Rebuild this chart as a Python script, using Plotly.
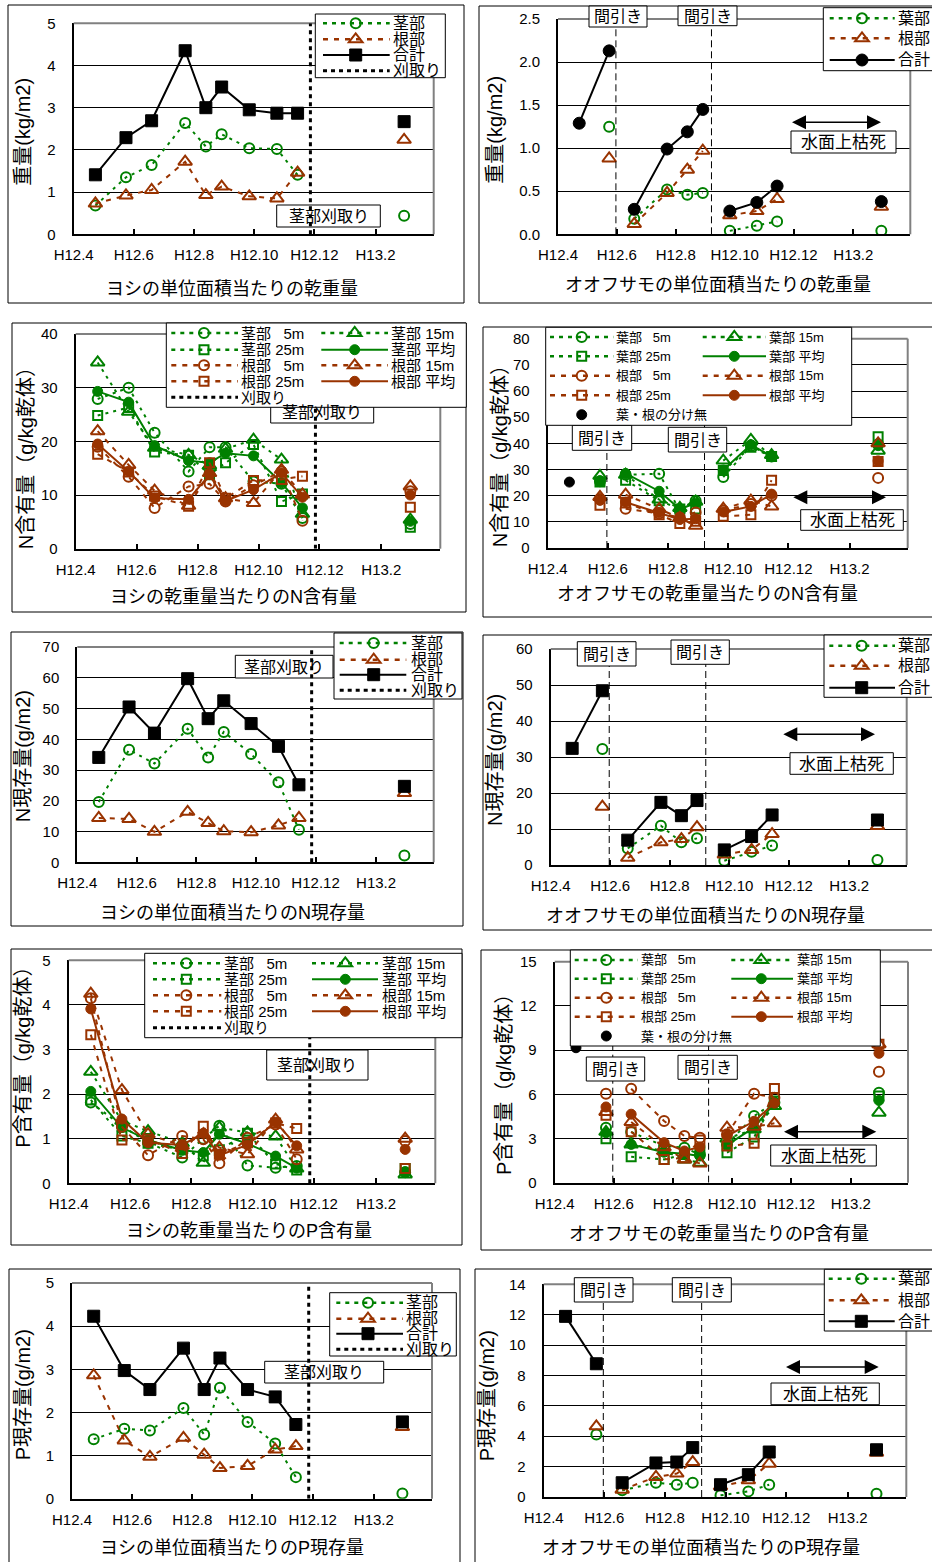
import plotly.graph_objects as go

W, H = 932, 1562
GREEN = "#008000"
BROWN = "#993300"
BLACK = "#000000"
FRAME_GRAY = "#808080"
FONT = "Liberation Sans, Arial, Noto Sans CJK JP, sans-serif"

# ---------------------------------------------------------------- data
# sampling dates (H12.4 = April 2000)
DATES = ["2000-04-23", "2000-05-24", "2000-06-19", "2000-07-23", "2000-08-13",
         "2000-08-29", "2000-09-26", "2000-10-24", "2000-11-14", "2001-03-02"]
CUT_DATE = "2000-11-27"                      # 刈取り (reed stems cut)
THINNING_DATES = ["2000-05-31", "2000-09-07"]  # 間引き
X_RANGE = ["2000-04-01", "2001-04-01"]
TICK_DATES = ["2000-04-01", "2000-06-01", "2000-08-01", "2000-10-01", "2000-12-01", "2001-02-01"]
TICK_LABELS = ["H12.4", "H12.6", "H12.8", "H12.10", "H12.12", "H13.2"]

# ヨシ dry weight (kg/m2)
YOSHI_DW_STEM = [0.68, 1.35, 1.64, 2.64, 2.08, 2.37, 2.04, 2.02, 1.41, 0.44]
YOSHI_DW_ROOT = [0.73, 0.92, 1.05, 1.72, 0.93, 1.13, 0.90, 0.85, 1.46, 2.24]
YOSHI_DW_TOTAL = [1.41, 2.29, 2.69, 4.35, 3.00, 3.49, 2.95, 2.87, 2.87, 2.67]

# オオフサモ dry weight (kg/m2)
FUSA_DW_LEAF = [None, 1.25, 0.18, 0.52, 0.46, 0.48, 0.04, 0.10, 0.15, 0.04]
FUSA_DW_ROOT = [None, 0.88, 0.12, 0.48, 0.75, 0.97, 0.22, 0.27, 0.41, 0.32]
FUSA_DW_TOTAL = [1.29, 2.13, 0.29, 0.99, 1.19, 1.45, 0.27, 0.37, 0.56, 0.38]

# ヨシ N content (g/kg dry)
YOSHI_N_STEM_5 = [27.9, 30.0, 21.6, 14.4, 18.9, 18.9, 12.5, 12.1, 5.7, 4.6]
YOSHI_N_STEM_15 = [34.7, 25.5, 18.8, 17.5, 15.5, 18.6, 20.3, 16.6, 6.5, 5.4]
YOSHI_N_STEM_25 = [24.8, 26.3, 18.0, 17.4, 13.8, 16.0, 19.4, 8.8, 10.2, 4.0]
YOSHI_N_STEM_AVG = [29.3, 27.3, 19.2, 16.4, 16.0, 17.8, 17.3, 12.3, 7.6, 5.1]
YOSHI_N_ROOT_5 = [19.0, 13.4, 7.6, 11.6, 12.1, 8.8, 11.8, 14.4, 5.2, 10.7]
YOSHI_N_ROOT_15 = [21.9, 15.6, 10.8, 8.0, 14.1, 9.4, 8.5, 14.7, 10.1, 11.6]
YOSHI_N_ROOT_25 = [17.6, 14.3, 9.8, 7.9, 16.0, 9.4, 12.7, 12.9, 13.5, 7.7]
YOSHI_N_ROOT_AVG = [19.5, 14.4, 9.4, 9.2, 13.8, 8.9, 11.0, 14.1, 9.6, 10.0]

# オオフサモ N content (g/kg dry)
FUSA_N_MIXED = [25.2, None, None, None, None, None, None, None, None, None]
FUSA_N_LEAF_5 = [None, 25.5, 28.0, 28.4, 14.3, 18.1, 27.1, 39.0, 35.0, 39.7]
FUSA_N_LEAF_15 = [None, 27.6, 28.0, 18.5, 15.3, 17.7, 33.4, 41.3, 35.5, 37.2]
FUSA_N_LEAF_25 = [None, 25.2, 25.9, 18.1, 14.9, 14.9, 29.6, 38.5, 35.0, 42.5]
FUSA_N_LEAF_AVG = [None, 25.7, 28.5, 21.7, 14.9, 17.1, 29.8, 39.5, 35.0, 39.1]
FUSA_N_ROOT_5 = [None, 18.7, 15.0, 13.2, 11.7, 13.6, 14.3, 16.8, 20.0, 26.8]
FUSA_N_ROOT_15 = [None, 19.5, 20.4, 14.9, 11.5, 8.5, 15.0, 18.1, 15.9, 40.0]
FUSA_N_ROOT_25 = [None, 16.3, 17.2, 12.7, 9.4, 10.2, 12.1, 12.7, 25.9, 33.1]
FUSA_N_ROOT_AVG = [None, 18.2, 17.5, 13.6, 10.9, 11.2, 13.8, 15.9, 20.6, 33.3]

# ヨシ N stock (g/m2)
YOSHI_NS_STEM = [19.6, 36.6, 32.1, 43.4, 34.1, 42.4, 35.2, 26.0, 10.6, 2.2]
YOSHI_NS_ROOT = [14.4, 14.1, 9.9, 16.4, 12.8, 10.1, 9.8, 12.0, 14.4, 22.5]
YOSHI_NS_TOTAL = [34.1, 50.5, 42.0, 59.7, 46.7, 52.5, 45.1, 37.7, 25.2, 24.7]

# オオフサモ N stock (g/m2)
FUSA_NS_LEAF = [None, 32.2, 4.6, 10.9, 6.3, 7.4, 1.2, 3.7, 5.4, 1.4]
FUSA_NS_ROOT = [None, 16.2, 2.0, 6.3, 7.2, 10.5, 2.9, 4.2, 8.6, 10.8]
FUSA_NS_TOTAL = [32.4, 48.4, 6.9, 17.4, 13.7, 17.9, 4.2, 7.9, 13.9, 12.5]

# ヨシ P content (g/kg dry)
YOSHI_P_STEM_5 = [1.81, 1.29, 0.91, 0.58, 1.00, 1.29, 0.40, 0.35, 0.39, 0.25]
YOSHI_P_STEM_15 = [2.50, 1.40, 1.17, 0.90, 0.46, 1.25, 1.14, 1.05, 0.33, 0.20]
YOSHI_P_STEM_25 = [1.87, 1.06, 0.90, 0.75, 0.61, 0.75, 1.12, 0.43, 0.30, 0.33]
YOSHI_P_STEM_AVG = [2.06, 1.25, 0.97, 0.74, 0.69, 1.10, 0.89, 0.61, 0.34, 0.26]
YOSHI_P_ROOT_5 = [4.15, 1.27, 0.63, 1.06, 0.99, 0.45, 1.02, 1.32, 0.54, 0.95]
YOSHI_P_ROOT_15 = [4.25, 2.09, 1.10, 0.84, 1.10, 0.80, 0.65, 1.43, 0.76, 1.00]
YOSHI_P_ROOT_25 = [3.33, 0.97, 0.99, 0.67, 1.28, 0.65, 0.91, 1.35, 1.23, 0.33]
YOSHI_P_ROOT_AVG = [3.91, 1.44, 0.91, 0.86, 1.12, 0.63, 0.86, 1.37, 0.84, 0.76]

# オオフサモ P content (g/kg dry)
FUSA_P_MIXED = [9.16, None, None, None, None, None, None, None, None, None]
FUSA_P_LEAF_5 = [None, 3.73, 3.44, 2.49, 2.38, 1.90, 2.60, 4.52, 5.45, 6.11]
FUSA_P_LEAF_15 = [None, 3.45, 2.60, 2.15, 1.58, 1.36, 3.00, 3.62, 5.20, 4.75]
FUSA_P_LEAF_25 = [None, 2.99, 1.76, 1.58, 1.92, 2.17, 2.04, 3.10, 5.54, 5.88]
FUSA_P_LEAF_AVG = [None, 3.39, 2.60, 2.07, 1.96, 1.81, 2.55, 3.75, 5.40, 5.58]
FUSA_P_ROOT_5 = [None, 6.04, 6.38, 4.19, 3.17, 3.05, 3.28, 6.04, 5.77, 7.53]
FUSA_P_ROOT_15 = [None, 4.80, 4.12, 2.40, 1.58, 1.31, 3.73, 3.80, 4.03, 9.40]
FUSA_P_ROOT_25 = [None, 4.57, 3.46, 1.58, 1.70, 2.90, 2.49, 2.67, 6.40, 9.40]
FUSA_P_ROOT_AVG = [None, 5.14, 4.65, 2.72, 2.15, 2.42, 3.17, 4.17, 5.40, 8.78]

# ヨシ P stock (g/m2)
YOSHI_PS_STEM = [1.38, 1.62, 1.58, 2.10, 1.49, 2.57, 1.78, 1.28, 0.50, 0.12]
YOSHI_PS_ROOT = [2.86, 1.35, 0.97, 1.41, 1.02, 0.71, 0.76, 1.14, 1.22, 1.66]
YOSHI_PS_TOTAL = [4.23, 2.97, 2.53, 3.49, 2.53, 3.26, 2.53, 2.36, 1.72, 1.78]

# オオフサモ P stock (g/m2)
FUSA_PS_LEAF = [None, 4.12, 0.44, 0.94, 0.81, 0.94, 0.11, 0.37, 0.81, 0.22]
FUSA_PS_ROOT = [None, 4.65, 0.48, 1.32, 1.54, 2.30, 0.70, 1.10, 2.19, 2.92]
FUSA_PS_TOTAL = [11.89, 8.77, 0.94, 2.24, 2.30, 3.25, 0.81, 1.47, 2.96, 3.11]

# which sampling dates are joined by a line
YOSHI_RUNS = [[0, 1, 2, 3, 4, 5, 6, 7, 8], [9]]
FUSA_RUNS = [[0, 1], [2, 3, 4, 5], [6, 7, 8], [9]]

# ---------------------------------------------------------------- styles
DOT = "3px,5px"
DASH = "5px,6px"
STEM = dict(color=GREEN, dash=DOT, symbol="circle-open", size=10)
ROOT = dict(color=BROWN, dash=DASH, symbol="triangle-up-open", size=12)
TOTAL_SQ = dict(color=BLACK, dash="solid", symbol="square", size=12)
TOTAL_CI = dict(color=BLACK, dash="solid", symbol="circle", size=12)
G5 = dict(color=GREEN, dash=DOT, symbol="circle-open", size=10)
G15 = dict(color=GREEN, dash=DOT, symbol="triangle-up-open", size=12)
G25 = dict(color=GREEN, dash=DOT, symbol="square-open", size=9)
GAVG = dict(color=GREEN, dash="solid", symbol="circle", size=10)
B5 = dict(color=BROWN, dash=DASH, symbol="circle-open", size=10)
B15 = dict(color=BROWN, dash=DASH, symbol="triangle-up-open", size=12)
B25 = dict(color=BROWN, dash=DASH, symbol="square-open", size=9)
BAVG = dict(color=BROWN, dash="solid", symbol="circle", size=10)
CUT = dict(color=BLACK, dash="4px,4px", symbol=None, width=3)
MIXED = dict(color=BLACK, dash=None, symbol="circle", size=10)
KEY_DASH = {DOT: "4px,5px", DASH: "5px,6px"}

# ---------------------------------------------------------------- geometry (pixels)
PANELS = {
    1: dict(outer=(8, 5, 464, 303), plot=(73.7, 23.3, 433.7, 234.3), ymax=5, dtick=1, fmt="d",
            title=("ヨシの単位面積当たりの乾重量", 232, 289), ytitle=("重量(kg/m2)", 23, 131.7)),
    2: dict(outer=(479, 6, 940, 303), plot=(558, 19, 910.3, 234.3), ymax=2.5, dtick=0.5, fmt=".1f",
            title=("オオフサモの単位面積当たりの乾重量", 718, 285), ytitle=("重量(kg/m2)", 494.7, 130)),
    3: dict(outer=(12, 323, 466, 612), plot=(75.7, 334, 440.3, 548.7), ymax=40, dtick=10, fmt="d",
            title=("ヨシの乾重量当たりのN含有量", 233.7, 597.3), ytitle=("N含有量（g/kg乾体）", 26.3, 453)),
    4: dict(outer=(483, 327, 940, 617), plot=(547.7, 338.7, 907.7, 548), ymax=80, dtick=10, fmt="d",
            title=("オオフサモの乾重量当たりのN含有量", 707, 594), ytitle=("N含有量（g/kg乾体）", 500, 451.3)),
    5: dict(outer=(11, 632, 463, 926), plot=(77.3, 647, 433.7, 862.3), ymax=70, dtick=10, fmt="d",
            title=("ヨシの単位面積当たりのN現存量", 232.7, 913), ytitle=("N現存量(g/m2)", 23, 756.3)),
    6: dict(outer=(483, 635, 940, 930), plot=(550.7, 649, 906.7, 865), ymax=60, dtick=10, fmt="d",
            title=("オオフサモの単位面積当たりのN現存量", 705, 916), ytitle=("N現存量(g/m2)", 495, 760)),
    7: dict(outer=(11, 949, 462, 1245), plot=(68.7, 960.3, 435.3, 1183.3), ymax=5, dtick=1, fmt="d",
            title=("ヨシの乾重量当たりのP含有量", 248.7, 1231), ytitle=("P含有量（g/kg乾体）", 23, 1052.7)),
    8: dict(outer=(481, 950, 940, 1250), plot=(554.7, 961.7, 908, 1182.7), ymax=15, dtick=3, fmt="d",
            title=("オオフサモの乾重量当たりのP含有量", 718.7, 1234.3), ytitle=("P含有量（g/kg乾体）", 504.7, 1079.3)),
    9: dict(outer=(9, 1269, 460, 1570), plot=(72, 1283, 432, 1498.7), ymax=5, dtick=1, fmt="d",
            title=("ヨシの単位面積当たりのP現存量", 231.7, 1548), ytitle=("P現存量(g/m2)", 23, 1395.3)),
    10: dict(outer=(475, 1269, 940, 1570), plot=(543.7, 1284.3, 906.3, 1497), ymax=14, dtick=2, fmt="d",
             title=("オオフサモの単位面積当たりのP現存量", 701, 1548), ytitle=("P現存量(g/m2)", 487, 1395.3)),
}

LEGENDS = {
    1: dict(box=(315.3, 14, 445.3, 77.7), rows=[23.3, 39.3, 55, 70.7], cols=[(323, 389.7, 355.7, 392)], size=16),
    2: dict(box=(823.3, 7.7, 945, 70.7), rows=[18.3, 38.3, 60], cols=[(829.7, 894.7, 862, 896.5)], size=16),
    3: dict(box=(166.3, 323, 466.3, 407.3), rows=[333, 349.7, 365.3, 381.3, 397.3],
            cols=[(171.3, 238, 204, 240.3), (321.3, 388, 354.7, 390.3)], size=15),
    4: dict(box=(545.7, 327.3, 851.7, 425.3), rows=[337, 356.3, 375.7, 395.3, 414.7],
            cols=[(550, 613.3, 581.7, 615), (702.7, 766, 734.3, 768.3)], size=13),
    5: dict(box=(334, 633, 462, 699), rows=[643, 659.7, 674.7, 690.3], cols=[(339.7, 406.3, 373.7, 409.7)], size=16),
    6: dict(box=(824, 635, 945, 697.3), rows=[645.7, 665.7, 687.7], cols=[(829.3, 895, 861.7, 897.3)], size=16),
    7: dict(box=(144.7, 953.3, 462, 1037.7), rows=[963.3, 979.3, 995.3, 1011.3, 1027.7],
            cols=[(153, 221.3, 186.3, 223), (312, 378, 345.3, 380.7)], size=15),
    8: dict(box=(570.3, 950, 880.3, 1046), rows=[960, 978.7, 997.7, 1016.7, 1036],
            cols=[(574.7, 638, 606.3, 640.3), (731.3, 793, 761.3, 795.7)], size=13),
    9: dict(box=(329.7, 1292.7, 456.3, 1356), rows=[1302.7, 1318.7, 1333.7, 1349.3],
            cols=[(336.3, 403, 368, 404.7)], size=16),
    10: dict(box=(824.3, 1269.3, 945, 1331), rows=[1278.7, 1300.3, 1321.3], cols=[(828.7, 894.7, 861.3, 897)], size=16),
}

CUT_LABEL_BOXES = {1: (276.7, 205, 380.3, 227), 3: (270.7, 401.3, 373.7, 423), 5: (235.3, 655.3, 333, 678),
                   7: (266.7, 1050, 368, 1080), 9: (264.7, 1361.3, 383.7, 1383)}
THIN_BOXES = {2: [(589, 6, 647, 27), (678, 6, 737, 25.7)],
              4: [(572.3, 425.3, 631.7, 450.3), (668.3, 427.3, 726.7, 452)],
              6: [(577.3, 641.7, 636, 666), (671, 640, 729.3, 664.3)],
              8: [(586.3, 1057, 644.7, 1081), (678, 1055.3, 737.3, 1079.3)],
              10: [(574.3, 1277.7, 633, 1302), (672.3, 1277.7, 731.3, 1302)]}
DEAD_MARKS = {2: dict(arrow=(792, 881, 122.3), box=(791, 131, 896, 153)),
              4: dict(arrow=(793.3, 886, 497.3), box=(800.7, 509.7, 903.3, 530.3)),
              6: dict(arrow=(783.3, 875, 734.3), box=(790, 752.7, 893.3, 774.3)),
              8: dict(arrow=(784, 876.3, 1131.7), box=(770.7, 1145, 876.3, 1166)),
              10: dict(arrow=(786, 878.7, 1367), box=(771, 1383, 879.3, 1404.7))}

# ---------------------------------------------------------------- helpers
fig = go.Figure()
frames, marks, boxes, cuts, keys, arrows = [], [], [], [], [], []
annotations = []
axes = {}


def P(x, y):
    return x / W, 1 - y / H


def ids(i):
    return ("x" if i == 1 else f"x{i}"), ("y" if i == 1 else f"y{i}")


def line_shape(bucket, x0, y0, x1, y1, color=BLACK, width=1, dash="solid"):
    a, b = P(x0, y0)
    c, d = P(x1, y1)
    bucket.append(dict(type="line", xref="paper", yref="paper", x0=a, y0=b, x1=c, y1=d,
                       line=dict(color=color, width=width, dash=dash), layer="above"))


def rect_shape(bucket, x0, y0, x1, y1, color=BLACK, width=1, fill="rgba(0,0,0,0)"):
    a, b = P(x0, y1)
    c, d = P(x1, y0)
    bucket.append(dict(type="rect", xref="paper", yref="paper", x0=a, y0=b, x1=c, y1=d,
                       line=dict(color=color, width=width), fillcolor=fill, layer="above"))


def path_shape(bucket, pts, color, filled=True, width=2):
    coords = [P(x, y) for x, y in pts]
    d = "M" + " L".join(f"{a:.6f},{b:.6f}" for a, b in coords) + " Z"
    bucket.append(dict(type="path", xref="paper", yref="paper", path=d,
                       line=dict(color=color, width=0 if filled else width),
                       fillcolor=color if filled else "rgba(0,0,0,0)", layer="above"))


def text(x, y, s, size, xanchor="center", angle=0):
    a, b = P(x, y)
    annotations.append(dict(xref="paper", yref="paper", x=a, y=b, text=s, showarrow=False,
                            xanchor=xanchor, yanchor="middle", textangle=angle, borderpad=0,
                            font=dict(family=FONT, size=size, color=BLACK)))


def glyph(bucket, style, cx, cy):
    sym, color = style["symbol"], style["color"]
    r = style["size"] / 2
    filled = not sym.endswith("open")
    if sym.startswith("circle"):
        a, b = P(cx - r, cy + r)
        c, d = P(cx + r, cy - r)
        bucket.append(dict(type="circle", xref="paper", yref="paper", x0=a, y0=b, x1=c, y1=d,
                           line=dict(color=color, width=1 if filled else 2),
                           fillcolor=color if filled else "rgba(0,0,0,0)", layer="above"))
    elif sym.startswith("square"):
        rect_shape(bucket, cx - r, cy - r, cx + r, cy + r, color, 1 if filled else 2,
                   color if filled else "rgba(0,0,0,0)")
    else:
        rt = r * 2 / 3 ** 0.5
        path_shape(bucket, [(cx - rt, cy + r / 2), (cx + rt, cy + r / 2), (cx, cy - r)], color, filled)


def add_series(i, values, runs, style, lines=True):
    xs, ys = [], []
    for run in runs:
        if xs:
            xs.append(None)
            ys.append(None)
        for k in run:
            xs.append(DATES[k])
            ys.append(values[k])
    xa, ya = ids(i)
    filled = not style["symbol"].endswith("open")
    fig.add_trace(go.Scatter(
        x=xs, y=ys, xaxis=xa, yaxis=ya, mode="lines+markers" if lines else "markers",
        line=dict(color=style["color"], width=2, dash=style["dash"] or "solid"),
        marker=dict(symbol=style["symbol"], size=style["size"], color=style["color"],
                    line=dict(color=style["color"], width=1 if filled else 2)),
        connectgaps=False, showlegend=False, hoverinfo="skip"))


def legend(i, entries):
    cfg = LEGENDS[i]
    rect_shape(keys, *cfg["box"], color=BLACK, width=1, fill="white")
    for style, label, col, row in entries:
        lx0, lx1, mx, tx = cfg["cols"][col]
        y = cfg["rows"][row]
        if style.get("dash"):
            dash = KEY_DASH.get(style["dash"], style["dash"])
            width = style.get("width", 2 if dash == "solid" else 2.5)
            line_shape(keys, lx0, y, lx1, y, style["color"], width, dash)
        if style.get("symbol"):
            glyph(keys, style, mx, y)
        text(tx, y, label, cfg["size"], xanchor="left")


def label_box(bucket, box, s, size):
    x0, y0, x1, y1 = box
    rect_shape(bucket, x0, y0, x1, y1, BLACK, 1, "white")
    text((x0 + x1) / 2, (y0 + y1) / 2 + 0.5, s, size)


def double_arrow(x0, x1, y, head=14, half=7):
    line_shape(arrows, x0 + head - 1, y, x1 - head + 1, y, BLACK, 1.5)
    path_shape(arrows, [(x0, y), (x0 + head, y - half), (x0 + head, y + half)], BLACK)
    path_shape(arrows, [(x1, y), (x1 - head, y - half), (x1 - head, y + half)], BLACK)


# ---------------------------------------------------------------- panels: frames and axes
for i, p in PANELS.items():
    L, T, R, B = p["plot"]
    xa, ya = ids(i)
    sfx = "" if i == 1 else str(i)
    axes["xaxis" + sfx] = dict(
        domain=[L / W, R / W], anchor=ya, type="date", range=X_RANGE, automargin=False,
        tickmode="array", tickvals=TICK_DATES, ticktext=TICK_LABELS,
        ticks="inside", ticklen=5, tickwidth=1.5, tickcolor=BLACK,
        showline=True, linecolor=BLACK, linewidth=2, showgrid=False, zeroline=False,
        tickfont=dict(family=FONT, size=15, color=BLACK), ticklabelstandoff=6, fixedrange=True)
    axes["yaxis" + sfx] = dict(
        domain=[1 - B / H, 1 - T / H], anchor=xa, range=[0, p["ymax"]], tick0=0, dtick=p["dtick"],
        tickformat=p["fmt"], showgrid=True, gridcolor=BLACK, gridwidth=1, automargin=False,
        showline=True, linecolor=BLACK, linewidth=2, zeroline=False, ticks="",
        tickfont=dict(family=FONT, size=15, color=BLACK), ticklabelstandoff=13, fixedrange=True)
    rect_shape(frames, *p["outer"], color=BLACK, width=1)
    line_shape(frames, L, T, R, T, FRAME_GRAY, 2)
    line_shape(frames, R, T, R, B, FRAME_GRAY, 2)
    t, tx, ty = p["title"]
    text(tx, ty, t, 18)
    t, tx, ty = p["ytitle"]
    text(tx, ty, t, 20, angle=-90)

# ---------------------------------------------------------------- data traces
# 1: ヨシ dry weight
add_series(1, YOSHI_DW_STEM, YOSHI_RUNS, STEM)
add_series(1, YOSHI_DW_ROOT, YOSHI_RUNS, ROOT)
add_series(1, YOSHI_DW_TOTAL, YOSHI_RUNS, TOTAL_SQ)
# 2: オオフサモ dry weight
add_series(2, FUSA_DW_LEAF, FUSA_RUNS, STEM)
add_series(2, FUSA_DW_ROOT, FUSA_RUNS, ROOT)
add_series(2, FUSA_DW_TOTAL, FUSA_RUNS, TOTAL_CI)
# 3: ヨシ N content
for vals, st in [(YOSHI_N_STEM_5, G5), (YOSHI_N_STEM_15, G15), (YOSHI_N_STEM_25, G25), (YOSHI_N_STEM_AVG, GAVG),
                 (YOSHI_N_ROOT_5, B5), (YOSHI_N_ROOT_15, B15), (YOSHI_N_ROOT_25, B25), (YOSHI_N_ROOT_AVG, BAVG)]:
    add_series(3, vals, YOSHI_RUNS, st)
# 4: オオフサモ N content
for vals, st in [(FUSA_N_LEAF_5, G5), (FUSA_N_LEAF_15, G15), (FUSA_N_LEAF_25, G25), (FUSA_N_LEAF_AVG, GAVG),
                 (FUSA_N_ROOT_5, B5), (FUSA_N_ROOT_15, B15), (FUSA_N_ROOT_25, B25), (FUSA_N_ROOT_AVG, BAVG)]:
    add_series(4, vals, FUSA_RUNS, st)
add_series(4, FUSA_N_MIXED, [[0]], MIXED, lines=False)
# 5: ヨシ N stock
add_series(5, YOSHI_NS_STEM, YOSHI_RUNS, STEM)
add_series(5, YOSHI_NS_ROOT, YOSHI_RUNS, ROOT)
add_series(5, YOSHI_NS_TOTAL, YOSHI_RUNS, TOTAL_SQ)
# 6: オオフサモ N stock
add_series(6, FUSA_NS_LEAF, FUSA_RUNS, STEM)
add_series(6, FUSA_NS_ROOT, FUSA_RUNS, ROOT)
add_series(6, FUSA_NS_TOTAL, FUSA_RUNS, TOTAL_SQ)
# 7: ヨシ P content
for vals, st in [(YOSHI_P_STEM_5, G5), (YOSHI_P_STEM_15, G15), (YOSHI_P_STEM_25, G25), (YOSHI_P_STEM_AVG, GAVG),
                 (YOSHI_P_ROOT_5, B5), (YOSHI_P_ROOT_15, B15), (YOSHI_P_ROOT_25, B25), (YOSHI_P_ROOT_AVG, BAVG)]:
    add_series(7, vals, YOSHI_RUNS, st)
# 8: オオフサモ P content
for vals, st in [(FUSA_P_LEAF_5, G5), (FUSA_P_LEAF_15, G15), (FUSA_P_LEAF_25, G25), (FUSA_P_LEAF_AVG, GAVG),
                 (FUSA_P_ROOT_5, B5), (FUSA_P_ROOT_15, B15), (FUSA_P_ROOT_25, B25), (FUSA_P_ROOT_AVG, BAVG)]:
    add_series(8, vals, FUSA_RUNS, st)
add_series(8, FUSA_P_MIXED, [[0]], MIXED, lines=False)
# 9: ヨシ P stock
add_series(9, YOSHI_PS_STEM, YOSHI_RUNS, STEM)
add_series(9, YOSHI_PS_ROOT, YOSHI_RUNS, ROOT)
add_series(9, YOSHI_PS_TOTAL, YOSHI_RUNS, TOTAL_SQ)
# 10: オオフサモ P stock
add_series(10, FUSA_PS_LEAF, FUSA_RUNS, STEM)
add_series(10, FUSA_PS_ROOT, FUSA_RUNS, ROOT)
add_series(10, FUSA_PS_TOTAL, FUSA_RUNS, TOTAL_SQ)

# ---------------------------------------------------------------- event markers
for i in (1, 3, 5, 7, 9):
    xa, ya = ids(i)
    label_box(boxes, CUT_LABEL_BOXES[i], "茎部刈取り", 16)
    cuts.append(dict(type="line", xref=xa, yref=ya, x0=CUT_DATE, x1=CUT_DATE, y0=0, y1=PANELS[i]["ymax"],
                     line=dict(color=BLACK, width=3, dash="4px,4px"), layer="above"))

for i in (2, 4, 6, 8, 10):
    xa, ya = ids(i)
    for d in THINNING_DATES:
        marks.append(dict(type="line", xref=xa, yref=ya, x0=d, x1=d, y0=0, y1=PANELS[i]["ymax"],
                          line=dict(color=BLACK, width=1, dash="7px,4px"), layer="above"))
    for b in THIN_BOXES[i]:
        label_box(boxes, b, "間引き", 16)
    dm = DEAD_MARKS[i]
    label_box(boxes, dm["box"], "水面上枯死", 17)
    double_arrow(*dm["arrow"])

# ---------------------------------------------------------------- legends
SP = "\u2007"
for i in (1, 5, 9):
    legend(i, [(STEM, "茎部", 0, 0), (ROOT, "根部", 0, 1), (TOTAL_SQ, "合計", 0, 2), (CUT, "刈取り", 0, 3)])
legend(2, [(STEM, "葉部", 0, 0), (ROOT, "根部", 0, 1), (TOTAL_CI, "合計", 0, 2)])
for i in (6, 10):
    legend(i, [(STEM, "葉部", 0, 0), (ROOT, "根部", 0, 1), (TOTAL_SQ, "合計", 0, 2)])
for i in (3, 7):
    legend(i, [(G5, "茎部 " + SP + "5m", 0, 0), (G15, "茎部 15m", 1, 0),
               (G25, "茎部 25m", 0, 1), (GAVG, "茎部 平均", 1, 1),
               (B5, "根部 " + SP + "5m", 0, 2), (B15, "根部 15m", 1, 2),
               (B25, "根部 25m", 0, 3), (BAVG, "根部 平均", 1, 3),
               (CUT, "刈取り", 0, 4)])
for i in (4, 8):
    legend(i, [(G5, "葉部 " + SP + "5m", 0, 0), (G15, "葉部 15m", 1, 0),
               (G25, "葉部 25m", 0, 1), (GAVG, "葉部 平均", 1, 1),
               (B5, "根部 " + SP + "5m", 0, 2), (B15, "根部 15m", 1, 2),
               (B25, "根部 25m", 0, 3), (BAVG, "根部 平均", 1, 3),
               (MIXED, "葉・根の分け無", 0, 4)])

fig.update_layout(
    template="none",
    width=W, height=H, margin=dict(l=0, r=0, t=0, b=0, pad=0, autoexpand=False),
    paper_bgcolor="white", plot_bgcolor="white", showlegend=False,
    shapes=frames + marks + boxes + cuts + keys + arrows,
    annotations=annotations, **axes)

fig.write_html("out.html", config={"displayModeBar": False},
               post_script="document.body.style.margin='0';document.body.style.overflow='hidden';")
